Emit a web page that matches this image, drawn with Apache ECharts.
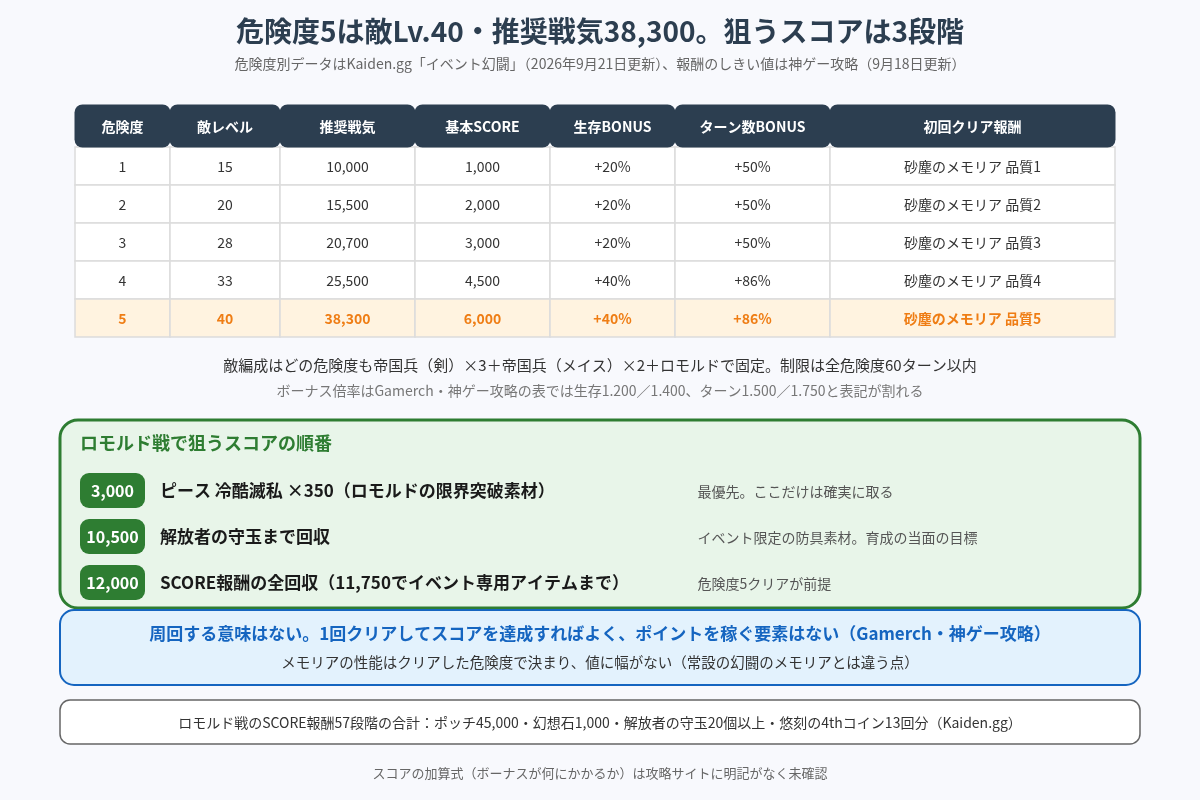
<!DOCTYPE html>
<html>
<head>
<meta charset="utf-8">
<style>html,body{margin:0;padding:0;background:#f8f9fd;}#main{width:1200px;height:800px;}</style>
<script src="https://cdn.jsdelivr.net/npm/echarts@6/dist/echarts.min.js"></script>
</head>
<body>
<div id="main"></div>
<script>
const columnHeaders = ["危険度", "敵レベル", "推奨戦気", "基本SCORE", "生存BONUS", "ターン数BONUS", "初回クリア報酬"];
const dangerLevels = ["1", "2", "3", "4", "5"];
const enemyLevels = ["15", "20", "28", "33", "40"];
const recommendedPower = ["10,000", "15,500", "20,700", "25,500", "38,300"];
const baseScores = ["1,000", "2,000", "3,000", "4,500", "6,000"];
const survivalBonus = ["+20%", "+20%", "+20%", "+40%", "+40%"];
const turnBonus = ["+50%", "+50%", "+50%", "+86%", "+86%"];
const firstClearRewards = ["砂塵のメモリア 品質1", "砂塵のメモリア 品質2", "砂塵のメモリア 品質3", "砂塵のメモリア 品質4", "砂塵のメモリア 品質5"];
const scoreTargets = ["3,000", "10,500", "12,000"];
const scoreGoals = ["ピース 冷酷滅私 ×350（ロモルドの限界突破素材）", "解放者の守玉まで回収", "SCORE報酬の全回収（11,750でイベント専用アイテムまで）"];
const scoreNotes = ["最優先。ここだけは確実に取る", "イベント限定の防具素材。育成の当面の目標", "危険度5クリアが前提"];

const FONT = '"Noto Sans CJK JP", "Noto Sans", sans-serif';
const HIGHLIGHT_ROW = 4;
const tableColumns = [dangerLevels, enemyLevels, recommendedPower, baseScores, survivalBonus, turnBonus, firstClearRewards];
// table layout in pixels, measured from the table's top left corner
const colEdges = [0, 95, 205, 340, 475, 600, 755, 1040];
const rowEdges = [0, 42, 80, 118, 156, 194, 232];

let cellData = [];
columnHeaders.forEach((name, c) => {
    cellData.push({value: [c, 0], text: name});
    tableColumns[c].forEach((v, r) => cellData.push({value: [c, r + 1], text: v}));
});

function renderCell(params, api) {
    const c = api.value(0);
    const r = api.value(1);
    const tl = api.coord([colEdges[c], rowEdges[r]]);
    const br = api.coord([colEdges[c + 1], rowEdges[r + 1]]);
    const shape = {x: tl[0], y: tl[1], width: br[0] - tl[0], height: br[1] - tl[1]};
    const text = cellData[params.dataIndex].text;
    const isHead = r === 0;
    const isHot = r - 1 === HIGHLIGHT_ROW;
    return {
        type: "group",
        children: [
            {
                type: "rect",
                z2: isHead ? 2 : 1,
                shape: isHead
                    ? {x: shape.x - 0.5, y: shape.y - 0.5, width: shape.width + 1, height: shape.height + 1, r: 8}
                    : shape,
                style: {
                    fill: isHead ? "#2c3e50" : (isHot ? "#fff3e0" : "#fff"),
                    stroke: isHead ? null : "#dcdcdc",
                    lineWidth: isHead ? 0 : 1.5,
                },
            },
            {
                type: "text",
                z2: 3,
                x: (tl[0] + br[0]) / 2,
                y: (tl[1] + br[1]) / 2 + 1,
                style: {
                    text: text,
                    align: "center",
                    verticalAlign: "middle",
                    font: (isHead || isHot ? "bold " : "") + "14px " + FONT,
                    fill: isHead ? "#fff" : (isHot ? "#ef7d14" : "#333"),
                },
            },
        ],
    };
}

function label(x, y, text, size, color, opts) {
    opts = opts || {};
    return {
        type: "text",
        x: x,
        y: y,
        z: 5,
        style: {
            text: text,
            align: opts.align || "center",
            verticalAlign: "middle",
            font: (opts.bold ? "bold " : "") + size + "px " + FONT,
            fill: color,
        },
    };
}

function panel(x, y, w, h, r, fill, stroke, lw) {
    return {
        type: "rect",
        z: 1,
        shape: {x: x, y: y, width: w, height: h, r: r},
        style: {fill: fill, stroke: stroke, lineWidth: lw},
    };
}

let graphics = [
    label(600, 31, "危険度5は敵Lv.40・推奨戦気38,300。狙うスコアは3段階", 28, "#2c3e50", {bold: true}),
    label(600, 64, "危険度別データはKaiden.gg「イベント幻闘」（2026年9月21日更新）、報酬のしきい値は神ゲー攻略（9月18日更新）", 14, "#666"),
    label(600, 365, "敵編成はどの危険度も帝国兵（剣）×3＋帝国兵（メイス）×2＋ロモルドで固定。制限は全危険度60ターン以内", 15, "#333"),
    label(600, 391, "ボーナス倍率はGamerch・神ゲー攻略の表では生存1.200／1.400、ターン1.500／1.750と表記が割れる", 14, "#777"),
    panel(60, 420, 1080, 188, 18, "#e8f5e9", "#2e7d32", 3),
    label(80, 443, "ロモルド戦で狙うスコアの順番", 18, "#2e7d32", {bold: true, align: "left"}),
    panel(60, 610, 1080, 75, 14, "#e3f2fd", "#1565c0", 2),
    label(600, 634, "周回する意味はない。1回クリアしてスコアを達成すればよく、ポイントを稼ぐ要素はない（Gamerch・神ゲー攻略）", 17, "#1565c0", {bold: true}),
    label(600, 662, "メモリアの性能はクリアした危険度で決まり、値に幅がない（常設の幻闘のメモリアとは違う点）", 14.5, "#333"),
    panel(60, 700, 1080, 44, 10, "#fff", "#666", 1.5),
    label(600, 723, "ロモルド戦のSCORE報酬57段階の合計：ポッチ45,000・幻想石1,000・解放者の守玉20個以上・悠刻の4thコイン13回分（Kaiden.gg）", 14, "#333"),
    label(600, 773, "スコアの加算式（ボーナスが何にかかるか）は攻略サイトに明記がなく未確認", 13, "#666"),
];

scoreTargets.forEach((score, i) => {
    const cy = 490.5 + i * 46;
    graphics.push(
        {type: "rect", z: 2, shape: {x: 80, y: cy - 17.5, width: 65, height: 35, r: 9}, style: {fill: "#2e7d32"}},
        label(112.5, cy, score, 16, "#fff", {bold: true}),
        label(160, cy, scoreGoals[i], 17, "#1a1a1a", {bold: true, align: "left"}),
        label(697.5, cy + 1, scoreNotes[i], 14, "#555", {align: "left"})
    );
});

const myChart = echarts.init(document.getElementById("main"), null, {renderer: "canvas"});
myChart.setOption({
    backgroundColor: "#f8f9fd",
    animation: false,
    grid: {left: 75, top: 105, width: 1040, height: 232},
    xAxis: {type: "value", min: 0, max: 1040, show: false},
    yAxis: {type: "value", min: 0, max: 232, inverse: true, show: false},
    series: [
        {
            type: "custom",
            renderItem: renderCell,
            data: cellData,
            encode: {x: 0, y: 1},
            clip: false,
            silent: true,
        },
    ],
    graphic: graphics,
});
</script>
</body>
</html>
